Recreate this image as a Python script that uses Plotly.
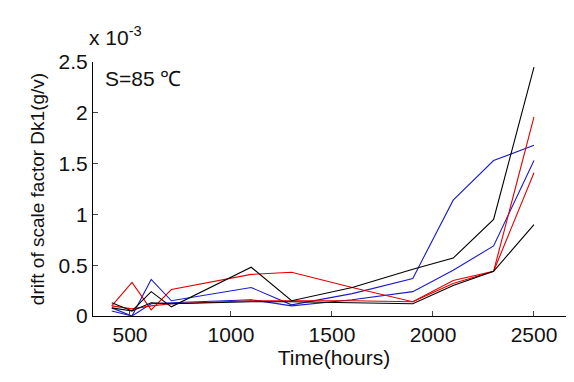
import plotly.graph_objects as go

t = [410, 510, 605, 705, 1100, 1300, 1600, 1900, 2100, 2300, 2500]

black1 = [0.13, 0.05, 0.24, 0.09, 0.48, 0.15, 0.28, 0.46, 0.57, 0.95, 2.45]
black2 = [0.08, 0.05, 0.13, 0.12, 0.14, 0.14, 0.13, 0.12, 0.30, 0.44, 0.90]
red1 = [0.10, 0.33, 0.06, 0.26, 0.41, 0.43, 0.28, 0.14, 0.35, 0.44, 1.96]
red2 = [0.10, 0.07, 0.10, 0.12, 0.15, 0.15, 0.15, 0.14, 0.32, 0.44, 1.41]
blue1 = [0.08, 0.00, 0.36, 0.15, 0.28, 0.11, 0.22, 0.37, 1.14, 1.53, 1.68]
blue2 = [0.05, 0.00, 0.12, 0.13, 0.16, 0.10, 0.16, 0.24, 0.45, 0.69, 1.53]

series = [
    (blue2, "#1a1acc"),
    (blue1, "#1a1acc"),
    (red2, "#e00000"),
    (red1, "#e00000"),
    (black2, "#000000"),
    (black1, "#000000"),
]

xticks = [500, 1000, 1500, 2000, 2500]
yticks = [0, 0.5, 1, 1.5, 2, 2.5]
ytick_labels = ["0", "0.5", "1", "1.5", "2", "2.5"]

fig = go.Figure()
for vals, col in series:
    fig.add_trace(go.Scatter(x=t, y=vals, mode="lines",
                             line=dict(color=col, width=1.1), showlegend=False))

fam = "Liberation Sans, Arial, sans-serif"
font = dict(family=fam, size=21, color="#111")
fig.update_layout(
    width=574, height=382,
    margin=dict(l=85, r=7, t=54, b=74),
    paper_bgcolor="white", plot_bgcolor="white",
    font=font,
    xaxis=dict(range=[317, 2703], tickvals=xticks, ticks="inside", ticklen=5,
               showline=True, linecolor="#000", linewidth=1, mirror=False,
               showgrid=False, zeroline=False, tickfont=font,
               title=dict(text="Time(hours)", standoff=2, font=font)),
    yaxis=dict(range=[0, 2.5], tickvals=yticks, ticktext=ytick_labels,
               ticks="inside", ticklen=5,
               showline=True, linecolor="#000", linewidth=1, mirror=False,
               showgrid=False, zeroline=False, tickfont=font,
               title=dict(text="drift of scale factor Dk1(g/v)", standoff=8,
                          font=dict(family=fam, size=19, color="#111"))),
    annotations=[
        dict(text="x 10<sup>-3</sup>", xref="paper", yref="paper", x=-0.012, y=1.045,
             xanchor="left", yanchor="bottom", showarrow=False, font=font),
        dict(text="S=85 \u2103", xref="paper", yref="paper", x=0.02, y=0.935,
             xanchor="left", yanchor="middle", showarrow=False, font=font),
    ],
)

fig.write_html("out.html")
